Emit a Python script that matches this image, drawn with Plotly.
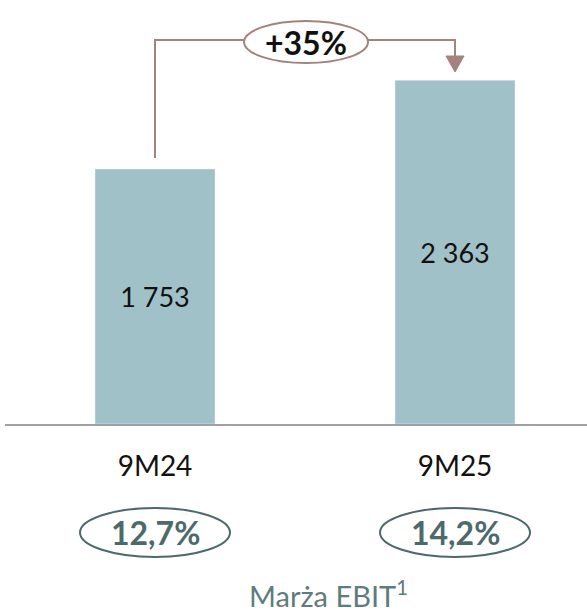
import plotly.graph_objects as go

categories = ["9M24", "9M25"]
values = [1753, 2363]
value_labels = ["1 753", "2 363"]
growth_label = "+35%"
margins = ["12,7%", "14,2%"]
margin_title = "Marża EBIT<sup>1</sup>"

W, H = 587, 612
ML, MB = 5, 188
plot_w = W - ML
plot_h = H - MB

BAR = "#a1c1c9"
BRACKET = "#a4837f"
DARK = "#4d6a6b"

def px_x(x):
    return (x - ML) / plot_w

def px_y(y):
    return (plot_h - y) / plot_h

fig = go.Figure()
fig.add_trace(go.Bar(
    x=[0, 1], y=values, width=0.4, marker_color=BAR,
    text=value_labels, textposition="inside", insidetextanchor="middle",
    textfont=dict(size=27, color="#111111", family="Lato"),
    showlegend=False, hoverinfo="skip",
))

shapes = []
# bracket
shapes.append(dict(type="path", xref="paper", yref="paper",
                   path=f"M {px_x(155)},{px_y(158)} L {px_x(155)},{px_y(40)} L {px_x(455)},{px_y(40)} L {px_x(455)},{px_y(57)}",
                   line=dict(color=BRACKET, width=2)))
shapes.append(dict(type="path", xref="paper", yref="paper",
                   path=f"M {px_x(446)},{px_y(56)} L {px_x(464)},{px_y(56)} L {px_x(455)},{px_y(72)} Z",
                   fillcolor=BRACKET, line=dict(color=BRACKET, width=1)))
shapes.append(dict(type="circle", xref="paper", yref="paper",
                   x0=px_x(244), x1=px_x(368), y0=px_y(63), y1=px_y(21),
                   fillcolor="white", line=dict(color=BRACKET, width=2)))
# margin ellipses
for cx in (155, 455):
    shapes.append(dict(type="circle", xref="paper", yref="paper",
                       x0=px_x(cx - 75), x1=px_x(cx + 75), y0=px_y(557), y1=px_y(508),
                       fillcolor="white", line=dict(color=DARK, width=2)))

annotations = [
    dict(x=px_x(306), y=px_y(42), xref="paper", yref="paper", text=f"<b>{growth_label}</b>",
         xanchor="center", yanchor="middle",
         showarrow=False, font=dict(size=32, color="#111111", family="Lato")),
    dict(x=px_x(328), y=px_y(594), xref="paper", yref="paper", text=margin_title,
         xanchor="center", yanchor="middle",
         showarrow=False, font=dict(size=29, color="#5f7c7d", family="Lato")),
]
for i, m in enumerate(margins):
    annotations.append(dict(x=i, y=px_y(532), xref="x", yref="paper", text=f"<b>{m}</b>",
                            xanchor="center", yanchor="middle",
                            showarrow=False, font=dict(size=32, color=DARK, family="Lato")))

scale = 255 / 1753  # px per unit
fig.update_layout(
    width=W, height=H, margin=dict(l=ML, r=0, t=0, b=MB),
    plot_bgcolor="white", paper_bgcolor="white",
    shapes=shapes, annotations=annotations,
    xaxis=dict(range=[-0.5, (W - 155) / 300], tickvals=[0, 1], ticktext=categories,
               showline=True, linecolor="#a0a0a0", linewidth=2, showgrid=False, zeroline=False,
               ticks="outside", ticklen=16, tickcolor="rgba(0,0,0,0)",
               tickfont=dict(size=28, color="#111111", family="Lato"), fixedrange=True),
    yaxis=dict(range=[0, plot_h / scale], visible=False, fixedrange=True),
)

fig.write_html("out.html")
